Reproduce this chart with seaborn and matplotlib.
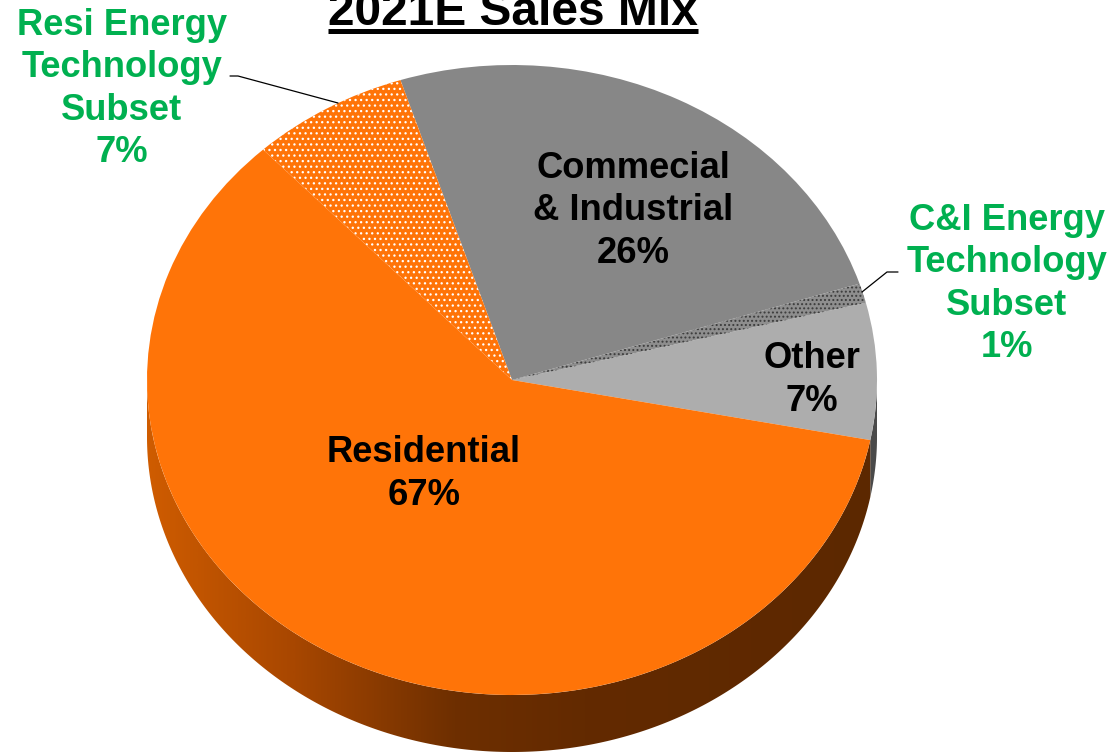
import numpy as np
import matplotlib
matplotlib.use("Agg")
import matplotlib.pyplot as plt
import seaborn as sns
from matplotlib.patches import Polygon
from matplotlib.colors import LinearSegmentedColormap

# 2021E sales mix (% of sales)
residential_total = 67
resi_subset = 7
ci_total = 26
ci_subset = 1
other = 7

segment_names = ["Other", "C&I Energy Technology Subset", "Commecial & Industrial",
                 "Resi Energy Technology Subset", "Residential"]
segment_shares = [other, ci_subset, ci_total - ci_subset, resi_subset,
                  residential_total - resi_subset]

top_colors = ["#ADADAD", "#8E8E8E", "#878787", "#FF7408", "#FF7408"]
hatches = [None, "....", None, "...", None]
hatch_colors = [None, "#3C3C3C", None, "#FFFFFF", None]

GREEN = "#00B050"

sns.set_theme(style="white")
plt.rcParams["font.family"] = ["Liberation Sans", "DejaVu Sans"]
plt.rcParams["hatch.linewidth"] = 0.9

W, H = 1114, 754
fig = plt.figure(figsize=(W / 100, H / 100), dpi=100)
fig.patch.set_facecolor("white")

# ---- pie axes: unit circle stretched into a tilted ellipse ----
ax = fig.add_axes([0, 0, 1, 1])
cx, cy, rx, ry = 512, 380, 365, 315
depth = 57 / ry

wedges, _ = ax.pie(segment_shares, startangle=-11, counterclock=True,
                   colors=top_colors, radius=1, center=(0, 0),
                   wedgeprops=dict(linewidth=0, zorder=3))
for w, h, hc in zip(wedges, hatches, hatch_colors):
    if h:
        w.set_hatch(h)
        w.set_edgecolor(hc)
        w.set_linewidth(0)

ax.set_aspect("auto")
ax.axis("off")

# side walls of the disc (front half only)
side_maps = {
    4: LinearSegmentedColormap.from_list(
        "resi_side", [(0.0, "#CF5C00"), (0.2, "#A84700"), (0.42, "#6E2F00"),
                      (0.6, "#632A00"), (1.0, "#5C2800")]),
    0: LinearSegmentedColormap.from_list("other_side", ["#4A4A4A", "#4A4A4A"]),
}
gradient = np.linspace(0, 1, 512).reshape(1, -1)

for i, w in enumerate(wedges):
    t1, t2 = w.theta1, w.theta2
    for k in (-360, 0, 360):
        a, b = max(t1 + k, 180), min(t2 + k, 360)
        if b <= a:
            continue
        t = np.radians(np.linspace(a, b, 300))
        top = np.column_stack([np.cos(t), np.sin(t)])
        bot = top[::-1] - np.array([0, depth])
        poly = Polygon(np.vstack([top, bot]), closed=True, facecolor="none",
                       edgecolor="none", zorder=1)
        ax.add_patch(poly)
        cmap = side_maps.get(i, side_maps[4])
        im = ax.imshow(gradient, extent=[-1, 1, -1 - depth, 0.2], aspect="auto",
                       cmap=cmap, zorder=1, interpolation="bilinear")
        im.set_clip_path(poly)

ax.set_xlim(-cx / rx, (W - cx) / rx)
ax.set_ylim(-(H - cy) / ry, cy / ry)

# ---- annotation layer in pixel coordinates ----
tx = fig.add_axes([0, 0, 1, 1], facecolor="none")
tx.set_xlim(0, W)
tx.set_ylim(H, 0)
tx.axis("off")

fs = 26.2
lab = dict(fontsize=fs, fontweight="bold", ha="center", va="center",
           linespacing=1.27, zorder=5)

tx.text(633, 211, f"Commecial\n& Industrial\n{ci_total}%", color="black", **lab)
tx.text(424, 474, f"Residential\n{residential_total}%", color="black", **lab)
tx.text(812, 380, f"Other\n{other}%", color="black", **lab)
tx.text(122, 89, f"Resi Energy\nTechnology\nSubset\n{resi_subset}%", color=GREEN, **lab)
tx.text(1007, 284, f"C&I Energy\nTechnology\nSubset\n{ci_subset}%", color=GREEN, **lab)

# leader lines
tx.plot([230, 238, 338], [76, 76, 103], color="black", lw=0.9, zorder=4)
tx.plot([862, 887, 898], [292, 272, 272], color="black", lw=0.9, zorder=4)

# underlined title
title = tx.text(513, 25, "2021E Sales Mix", fontsize=34.5, fontweight="bold",
                ha="center", va="baseline", color="black", zorder=5)
fig.canvas.draw()
bb = title.get_window_extent()
tx.plot([bb.x0, bb.x1], [31, 31], color="black", lw=3.6, solid_capstyle="butt")

fig.savefig("out.png", dpi=100, facecolor="white")
